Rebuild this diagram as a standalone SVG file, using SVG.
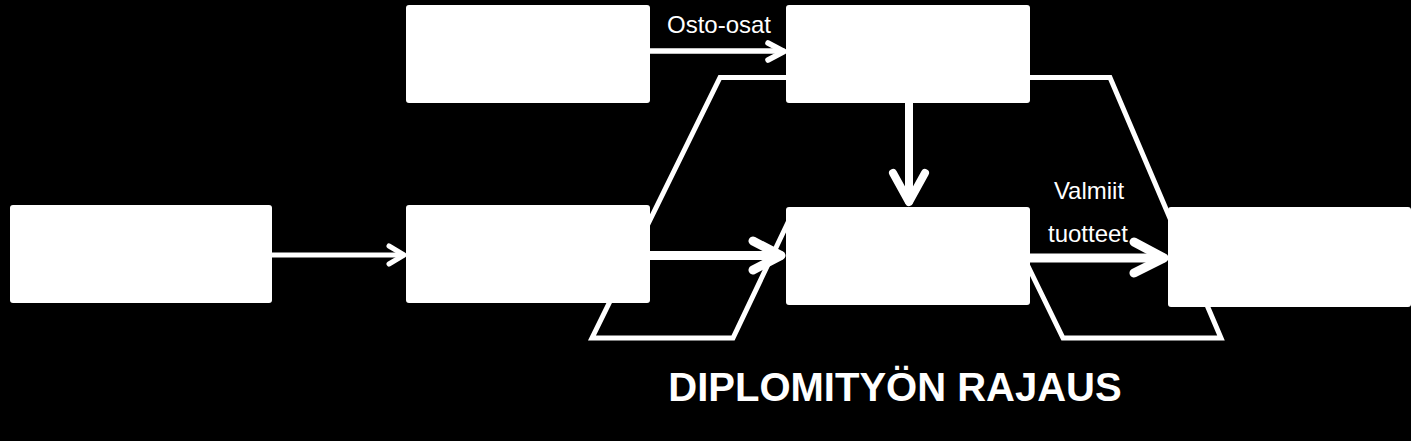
<svg xmlns="http://www.w3.org/2000/svg" width="1411" height="441" viewBox="0 0 1411 441">
<style>
.box{fill:#fff;}
.ln{fill:none;stroke:#fff;stroke-linecap:round;stroke-linejoin:round;}
.bd{fill:none;stroke:#fff;stroke-width:5;stroke-linejoin:miter;}
.lbl{fill:#fff;font-family:"Liberation Sans",Arial,sans-serif;font-size:24px;text-anchor:middle;}
.title{fill:#fff;font-family:"Liberation Sans",Arial,sans-serif;font-size:40px;font-weight:bold;text-anchor:middle;}
</style>
<rect width="1411" height="441" fill="#000"/>
<g id="boundary">
<path class="bd" d="M792,214 L733,338 L592,338 L720,77.5 L1110,77.5 L1221,338 L1063,338 L1025,260"/>
</g>
<g id="connectors">
<line class="ln" x1="272" y1="255" x2="403" y2="255" stroke-width="5"/>
<polyline class="ln" points="389,246 404,255 389,264" stroke-width="5"/>
<line class="ln" x1="650" y1="51" x2="783" y2="51" stroke-width="5.5"/>
<polyline class="ln" points="768,43 784,51.5 768,60" stroke-width="5.5"/>
<line class="ln" x1="650" y1="255.5" x2="780" y2="255.5" stroke-width="9"/>
<polyline class="ln" points="753,241 781,255.5 753,270" stroke-width="9"/>
<line class="ln" x1="1030" y1="258" x2="1163" y2="258" stroke-width="9"/>
<polyline class="ln" points="1134,242 1164,258 1134,273" stroke-width="9"/>
<line class="ln" x1="909" y1="103" x2="909" y2="201" stroke-width="8"/>
<polyline class="ln" points="893,173 909,202 925,173" stroke-width="8"/>
<text class="lbl" x="719" y="33">Osto-osat</text>
<text class="lbl" x="1089" y="199">Valmiit</text>
<text class="lbl" x="1088" y="242">tuotteet</text>
</g>
<g id="nodeA"><rect class="box" x="10" y="205" width="262" height="98" rx="3"/></g>
<g id="nodeB"><rect class="box" x="406" y="205" width="244" height="98" rx="3"/></g>
<g id="nodeC"><rect class="box" x="406" y="5" width="244" height="98" rx="3"/></g>
<g id="nodeD"><rect class="box" x="786" y="5" width="244" height="98" rx="3"/></g>
<g id="nodeE"><rect class="box" x="786" y="207" width="244" height="98" rx="3"/></g>
<g id="nodeF"><rect class="box" x="1168" y="207" width="243" height="100" rx="3"/></g>
<g id="title"><text class="title" x="895" y="401">DIPLOMITYÖN RAJAUS</text></g>
</svg>
